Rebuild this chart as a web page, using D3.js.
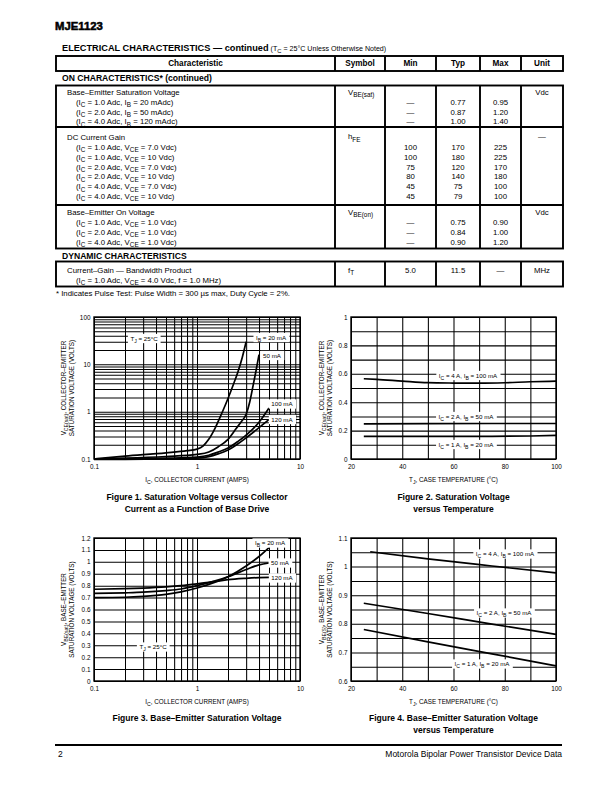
<!DOCTYPE html>
<html><head><meta charset="utf-8">
<script src="https://cdn.jsdelivr.net/npm/d3@7"></script>
<style>
html,body{margin:0;padding:0;background:#fff;}
svg{display:block;}
text{fill:#000;}
</style></head><body>
<svg id="page" width="612" height="792"></svg>
<script>
// ---------------- DATA ----------------
const tableColumns = ["Characteristic", "Symbol", "Min", "Typ", "Max", "Unit"];

const satTitle = "Base–Emitter Saturation Voltage";
const satSymbol = "V_{BE(sat)}";
const satUnit = "Vdc";
const satConds = ["(I_{C} = 1.0 Adc, I_{B} = 20 mAdc)", "(I_{C} = 2.0 Adc, I_{B} = 50 mAdc)", "(I_{C} = 4.0 Adc, I_{B} = 120 mAdc)"];
const satMin = ["—", "—", "—"];
const satTyp = ["0.77", "0.87", "1.00"];
const satMax = ["0.95", "1.20", "1.40"];

const hfeTitle = "DC Current Gain";
const hfeSymbol = "h_{FE}";
const hfeUnit = "—";
const hfeConds = ["(I_{C} = 1.0 Adc, V_{CE} = 7.0 Vdc)", "(I_{C} = 1.0 Adc, V_{CE} = 10 Vdc)", "(I_{C} = 2.0 Adc, V_{CE} = 7.0 Vdc)", "(I_{C} = 2.0 Adc, V_{CE} = 10 Vdc)", "(I_{C} = 4.0 Adc, V_{CE} = 7.0 Vdc)", "(I_{C} = 4.0 Adc, V_{CE} = 10 Vdc)"];
const hfeMin = ["100", "100", "75", "80", "45", "45"];
const hfeTyp = ["170", "180", "120", "140", "75", "79"];
const hfeMax = ["225", "225", "170", "180", "100", "100"];

const onTitle = "Base–Emitter On Voltage";
const onSymbol = "V_{BE(on)}";
const onUnit = "Vdc";
const onConds = ["(I_{C} = 1.0 Adc, V_{CE} = 1.0 Vdc)", "(I_{C} = 2.0 Adc, V_{CE} = 1.0 Vdc)", "(I_{C} = 4.0 Adc, V_{CE} = 1.0 Vdc)"];
const onMin = ["—", "—", "—"];
const onTyp = ["0.75", "0.84", "0.90"];
const onMax = ["0.90", "1.00", "1.20"];

const ftTitle = "Current–Gain — Bandwidth Product";
const ftSymbol = "f_{T}";
const ftUnit = "MHz";
const ftConds = ["(I_{C} = 1.0 Adc, V_{CE} = 4.0 Vdc, f = 1.0 MHz)"];
const ftMin = ["5.0"];
const ftTyp = ["11.5"];
const ftMax = ["—"];

// Figure 1: VCE(sat) vs IC (log-log)
const fig1Series = ["I_{B} = 20 mA", "50 mA", "100 mA", "120 mA"];
const fig1Ib20X = [0.1, 0.2, 0.5, 0.8, 1.0, 1.15, 1.3, 1.5, 1.75, 2.0, 2.25, 2.5, 2.75, 3.0];
const fig1Ib20Y = [0.1, 0.115, 0.135, 0.15, 0.162, 0.19, 0.26, 0.45, 0.95, 1.9, 3.7, 7.0, 14, 30];
const fig1Ib50X = [0.1, 0.2, 0.5, 1.0, 1.3, 1.6, 2.0, 2.4, 2.7, 3.0, 3.25, 3.5, 3.75, 4.0];
const fig1Ib50Y = [0.1, 0.104, 0.113, 0.125, 0.14, 0.18, 0.26, 0.44, 0.62, 0.88, 1.6, 3.5, 7.5, 16];
const fig1Ib100X = [0.1, 0.2, 0.5, 1.0, 1.3, 1.6, 2.0, 2.5, 3.0, 4.0, 5.0];
const fig1Ib100Y = [0.1, 0.1, 0.104, 0.11, 0.12, 0.14, 0.17, 0.235, 0.32, 0.6, 1.2];
const fig1Ib120X = [0.1, 0.2, 0.5, 1.0, 1.3, 1.6, 2.0, 2.5, 3.0, 4.0, 5.0];
const fig1Ib120Y = [0.098, 0.098, 0.1, 0.104, 0.112, 0.128, 0.155, 0.21, 0.28, 0.46, 0.68];
const fig1XTicks = [0.1, 1, 10];
const fig1XLabels = ["0.1", "1", "10"];
const fig1YTicks = [0.1, 1, 10, 100];
const fig1YLabels = ["0.1", "1", "10", "100"];

// Figure 2: VCE(sat) vs temperature
const fig2Series = ["I_{C} = 4 A, I_{B} = 100 mA", "I_{C} = 2 A, I_{B} = 50 mA", "I_{C} = 1 A, I_{B} = 20 mA"];
const fig2Ic4X = [25, 30, 40, 50, 60, 70, 80, 90, 100];
const fig2Ic4Y = [0.565, 0.561, 0.549, 0.538, 0.535, 0.534, 0.537, 0.544, 0.548];
const fig2Ic2X = [25, 50, 75, 100];
const fig2Ic2Y = [0.247, 0.249, 0.25, 0.25];
const fig2Ic1X = [25, 50, 75, 90, 100];
const fig2Ic1Y = [0.16, 0.16, 0.16, 0.162, 0.166];
const fig2XTicks = [20, 40, 60, 80, 100];
const fig2XLabels = ["20", "40", "60", "80", "100"];
const fig2YTicks = [0, 0.2, 0.4, 0.6, 0.8, 1];
const fig2YLabels = ["0", "0.2", "0.4", "0.6", "0.8", "1"];

// Figure 3: VBE(sat) vs IC
const fig3Series = ["I_{B} = 20 mA", "50 mA", "120 mA"];
const fig3Ib20X = [0.1, 0.2, 0.3, 0.5, 0.7, 1.0, 1.5, 2.0, 3.0, 4.0, 5.0];
const fig3Ib20Y = [0.70, 0.703, 0.71, 0.727, 0.748, 0.78, 0.83, 0.875, 0.965, 1.045, 1.12];
const fig3Ib50X = [0.1, 0.2, 0.3, 0.5, 0.7, 1.0, 1.5, 2.0, 3.0, 4.0, 5.0];
const fig3Ib50Y = [0.735, 0.74, 0.745, 0.758, 0.772, 0.80, 0.84, 0.875, 0.935, 0.975, 0.99];
const fig3Ib120X = [0.1, 0.2, 0.3, 0.5, 0.7, 1.0, 1.5, 2.0, 3.0, 4.0, 5.0];
const fig3Ib120Y = [0.77, 0.775, 0.78, 0.79, 0.80, 0.815, 0.835, 0.85, 0.862, 0.868, 0.87];
const fig3XTicks = [0.1, 1, 10];
const fig3XLabels = ["0.1", "1", "10"];
const fig3YTicks = [0, 0.1, 0.2, 0.3, 0.4, 0.5, 0.6, 0.7, 0.8, 0.9, 1, 1.1, 1.2];
const fig3YLabels = ["0", "0.1", "0.2", "0.3", "0.4", "0.5", "0.6", "0.7", "0.8", "0.9", "1", "1.1", "1.2"];

// Figure 4: VBE(sat) vs temperature
const fig4Series = ["I_{C} = 4 A, I_{B} = 100 mA", "I_{C} = 2 A, I_{B} = 50 mA", "I_{C} = 1 A, I_{B} = 20 mA"];
const fig4Ic4X = [27.5, 50, 75, 100];
const fig4Ic4Y = [1.052, 1.027, 1.002, 0.978];
const fig4Ic2X = [25, 50, 75, 100];
const fig4Ic2Y = [0.872, 0.836, 0.799, 0.763];
const fig4Ic1X = [25, 50, 75, 100];
const fig4Ic1Y = [0.78, 0.737, 0.695, 0.653];
const fig4XTicks = [20, 40, 60, 80, 100];
const fig4XLabels = ["20", "40", "60", "80", "100"];
const fig4YTicks = [0.6, 0.7, 0.8, 0.9, 1, 1.1];
const fig4YLabels = ["0.6", "0.7", "0.8", "0.9", "1", "1.1"];

// ---------------- HELPERS ----------------
const SANS = '"Liberation Sans", Arial, Helvetica, sans-serif';
const NARROW = '"Liberation Sans Narrow", "Arial Narrow", "Liberation Sans", sans-serif';
const svg = d3.select('#page');

function rich(t, str, size) {
  const parts = str.split(/(_\{[^}]*\})/);
  let down = false;
  const sh = size * 0.3;
  parts.forEach(p => {
    if (!p) return;
    if (p.startsWith('_{')) {
      t.append('tspan').attr('dy', down ? 0 : sh).attr('font-size', size * 0.82).text(p.slice(2, -1));
      down = true;
    } else {
      const ts = t.append('tspan').text(p);
      if (down) { ts.attr('dy', -sh); down = false; }
    }
  });
  return t;
}
function txt(parent, x, cy, str, o) {
  o = o || {};
  const size = o.size || 7;
  const t = parent.append('text')
    .attr('x', x).attr('y', cy + size * 0.36)
    .attr('font-size', size)
    .attr('font-family', o.family || SANS)
    .attr('font-weight', o.weight || 'normal')
    .attr('text-anchor', o.anchor || 'start');
  if (o.rotate) t.attr('transform', `rotate(${o.rotate},${x},${cy})`);
  rich(t, str, size);
  return t;
}
function boxedLabel(parent, cx, cy, str, size) {
  const g = parent.append('g');
  const r = g.append('rect').attr('fill', '#fff');
  const t = txt(g, cx, cy, str, {size: size, anchor: 'middle'});
  const b = t.node().getBBox();
  r.attr('x', b.x - 2.5).attr('y', cy - size * 0.75).attr('width', b.width + 5).attr('height', size * 1.5);
}

// ---------------- HEADER ----------------
txt(svg, 55, 26, "MJE1123", {size: 11.3, weight: 'bold'}).attr('stroke', '#000').attr('stroke-width', 0.55);
const ttl = txt(svg, 62, 48, "ELECTRICAL CHARACTERISTICS — continued", {size: 9.2, weight: 'bold', family: NARROW});
{
  ttl.append('tspan').attr('font-family', SANS).attr('font-weight', 'normal').attr('font-size', 7.1).text(" (T");
  ttl.append('tspan').attr('font-family', SANS).attr('font-weight', 'normal').attr('font-size', 5.8).attr('dy', 1.9).text("C");
  ttl.append('tspan').attr('font-family', SANS).attr('font-weight', 'normal').attr('font-size', 7.1).attr('dy', -1.9).text(" = 25°C Unless Otherwise Noted)");
}

// ---------------- TABLE ----------------
const colX = [56, 335, 385, 436, 480, 521, 563];
const LW = 1.9;
const tg = svg.append('g');
function vline(x, y1, y2) { tg.append('line').attr('x1', x).attr('x2', x).attr('y1', y1).attr('y2', y2).attr('stroke', '#000').attr('stroke-width', LW); }
function box(y1, y2) {
  tg.append('rect').attr('x', colX[0]).attr('y', y1).attr('width', colX[6] - colX[0]).attr('height', y2 - y1)
    .attr('fill', 'none').attr('stroke', '#000').attr('stroke-width', LW);
  for (let i = 1; i < 6; i++) vline(colX[i], y1, y2);
}
const mid = i => (colX[i] + colX[i + 1]) / 2;
box(56, 71);
tableColumns.forEach((c, i) => txt(tg, mid(i), 63.5, c, {size: 8.2, weight: 'bold', family: NARROW, anchor: 'middle'}));
txt(tg, 62, 78, "ON CHARACTERISTICS* (continued)", {size: 8.6, weight: 'bold', family: NARROW});

const FS = 7.8;
function group(top, bottom, titleY, rowYs, title, symbol, unit, conds, mins, typs, maxs, valuesOnTitle) {
  box(top, bottom);
  txt(tg, 67, titleY, title, {size: FS});
  txt(tg, mid(1) - 12, titleY - 0.5, symbol, {size: FS});
  txt(tg, mid(5), titleY - 0.5, unit, {size: FS, anchor: 'middle'});
  conds.forEach((c, i) => {
    txt(tg, 76, rowYs[i], c, {size: FS});
    const vy = valuesOnTitle ? titleY : rowYs[i];
    txt(tg, mid(2), vy, mins[i], {size: FS, anchor: 'middle'});
    txt(tg, mid(3), vy, typs[i], {size: FS, anchor: 'middle'});
    txt(tg, mid(4), vy, maxs[i], {size: FS, anchor: 'middle'});
  });
}
group(85.5, 127, 92.5, [102.2, 111.9, 121.6], satTitle, satSymbol, satUnit, satConds, satMin, satTyp, satMax, false);
group(127, 205, 137, [147.3, 157, 166.8, 176.6, 186.4, 196.2], hfeTitle, hfeSymbol, hfeUnit, hfeConds, hfeMin, hfeTyp, hfeMax, false);
group(205, 248.5, 212.3, [222.2, 232, 241.7], onTitle, onSymbol, onUnit, onConds, onMin, onTyp, onMax, false);
txt(tg, 62, 255.5, "DYNAMIC CHARACTERISTICS", {size: 8.6, weight: 'bold', family: NARROW});
group(261.5, 286.5, 270.3, [280], ftTitle, ftSymbol, ftUnit, ftConds, ftMin, ftTyp, ftMax, true);
txt(tg, 56, 293.5, "* Indicates Pulse Test: Pulse Width = 300 µs max, Duty Cycle = 2%.", {size: 7.8});

// ---------------- CHARTS ----------------
function chart(o) {
  const g = svg.append('g');
  const x = o.x, y = o.y;
  const [x0, x1] = x.range(), [y0, y1] = y.range();
  const w = x1 - x0, h = y0 - y1;
  g.append('g').attr('transform', `translate(0,${y0})`)
    .call(d3.axisBottom(x).tickValues(o.xGrid).tickSize(-h).tickFormat(''))
    .call(s => s.select('.domain').remove())
    .call(s => s.selectAll('line').attr('stroke', '#000').attr('stroke-width', 1.05));
  g.append('g').attr('transform', `translate(${x0},0)`)
    .call(d3.axisLeft(y).tickValues(o.yGrid).tickSize(-w).tickFormat(''))
    .call(s => s.select('.domain').remove())
    .call(s => s.selectAll('line').attr('stroke', '#000').attr('stroke-width', 1.05));
  g.append('rect').attr('x', x0).attr('y', y1).attr('width', w).attr('height', h)
    .attr('fill', 'none').attr('stroke', '#000').attr('stroke-width', 1.4);
  const ax = g.append('g').attr('transform', `translate(0,${y0})`)
    .call(d3.axisBottom(x).tickValues(o.xTicks).tickSize(0).tickPadding(5).tickFormat((d, i) => o.xLabels[i]));
  ax.select('.domain').remove();
  ax.selectAll('text').attr('font-family', SANS).attr('font-size', 6.4).attr('fill', '#000');
  const ay = g.append('g').attr('transform', `translate(${x0},0)`)
    .call(d3.axisLeft(y).tickValues(o.yTicks).tickSize(0).tickPadding(3.5).tickFormat((d, i) => o.yLabels[i]));
  ay.select('.domain').remove();
  ay.selectAll('text').attr('font-family', SANS).attr('font-size', 6.4).attr('fill', '#000');
  const line = d3.line().x(d => x(d[0])).y(d => y(d[1])).curve(d3.curveMonotoneX);
  o.series.forEach(s => {
    g.append('path').attr('d', line(s[0].map((v, i) => [v, s[1][i]])))
      .attr('fill', 'none').attr('stroke', '#000').attr('stroke-width', 1.7).attr('stroke-linejoin', 'round');
  });
  o.labels.forEach(l => boxedLabel(g, l[0], l[1], l[2], 6.2));
  txt(g, (x0 + x1) / 2, o.xTitleY, o.xTitle, {size: 6.3, anchor: 'middle'});
  txt(g, o.yTitleX[0], (y0 + y1) / 2, o.yTitle[0], {size: 6.3, anchor: 'middle', rotate: -90});
  txt(g, o.yTitleX[1], (y0 + y1) / 2, o.yTitle[1], {size: 6.3, anchor: 'middle', rotate: -90});
  o.caption.forEach((c, i) => txt(g, (x0 + x1) / 2, o.capY + i * 12, c, {size: 8.5, weight: 'bold', anchor: 'middle'}));
  return g;
}

// Figure 1
{
  const x = d3.scaleLog().domain([0.1, 10]).range([94, 300]);
  const y = d3.scaleLog().domain([0.1, 100]).range([459, 317]);
  chart({x, y, xGrid: x.ticks(), yGrid: y.ticks(), xTicks: fig1XTicks, xLabels: fig1XLabels, yTicks: fig1YTicks, yLabels: fig1YLabels,
    series: [[fig1Ib20X, fig1Ib20Y], [fig1Ib50X, fig1Ib50Y], [fig1Ib100X, fig1Ib100Y], [fig1Ib120X, fig1Ib120Y]],
    labels: [[144, 338.5, "T_{J} = 25°C"], [271, 337.5, fig1Series[0]], [272, 355.5, fig1Series[1]], [282, 404, fig1Series[2]], [282, 419.5, fig1Series[3]]],
    xTitle: "I_{C}, COLLECTOR CURRENT (AMPS)", xTitleY: 480,
    yTitle: ["V_{CE(sat)}, COLLECTOR–EMITTER", "SATURATION VOLTAGE (VOLTS)"], yTitleX: [64, 71.5],
    caption: ["Figure 1. Saturation Voltage versus Collector", "Current as a Function of Base Drive"], capY: 497});
}
// Figure 2
{
  const x = d3.scaleLinear().domain([20, 100]).range([351, 556]);
  const y = d3.scaleLinear().domain([0, 1]).range([459, 317]);
  chart({x, y, xGrid: x.ticks(8), yGrid: y.ticks(10), xTicks: fig2XTicks, xLabels: fig2XLabels, yTicks: fig2YTicks, yLabels: fig2YLabels,
    series: [[fig2Ic4X, fig2Ic4Y], [fig2Ic2X, fig2Ic2Y], [fig2Ic1X, fig2Ic1Y]],
    labels: [[468, 375.5, fig2Series[0]], [466, 416.5, fig2Series[1]], [466, 444.5, fig2Series[2]]],
    xTitle: "T_{J}, CASE TEMPERATURE (°C)", xTitleY: 480,
    yTitle: ["V_{CE(sat)}, COLLECTOR–EMITTER", "SATURATION VOLTAGE (VOLTS)"], yTitleX: [322, 329.5],
    caption: ["Figure 2. Saturation Voltage", "versus Temperature"], capY: 497});
}
// Figure 3
{
  const x = d3.scaleLog().domain([0.1, 10]).range([94, 300]);
  const y = d3.scaleLinear().domain([0, 1.2]).range([681, 538]);
  chart({x, y, xGrid: x.ticks(), yGrid: y.ticks(12), xTicks: fig3XTicks, xLabels: fig3XLabels, yTicks: fig3YTicks, yLabels: fig3YLabels,
    series: [[fig3Ib20X, fig3Ib20Y], [fig3Ib50X, fig3Ib50Y], [fig3Ib120X, fig3Ib120Y]],
    labels: [[270, 543, fig3Series[0]], [280, 563, fig3Series[1]], [282, 578, fig3Series[2]], [153, 647, "T_{J} = 25°C"]],
    xTitle: "I_{C}, COLLECTOR CURRENT (AMPS)", xTitleY: 702,
    yTitle: ["V_{BE(sat)}, BASE–EMITTER", "SATURATION VOLTAGE (VOLTS)"], yTitleX: [64, 71.5],
    caption: ["Figure 3. Base–Emitter Saturation Voltage"], capY: 718});
}
// Figure 4
{
  const x = d3.scaleLinear().domain([20, 100]).range([351, 556]);
  const y = d3.scaleLinear().domain([0.6, 1.1]).range([681, 538]);
  chart({x, y, xGrid: x.ticks(8), yGrid: y.ticks(10), xTicks: fig4XTicks, xLabels: fig4XLabels, yTicks: fig4YTicks, yLabels: fig4YLabels,
    series: [[fig4Ic4X, fig4Ic4Y], [fig4Ic2X, fig4Ic2Y], [fig4Ic1X, fig4Ic1Y]],
    labels: [[505, 554, fig4Series[0]], [504, 613, fig4Series[1]], [482, 664, fig4Series[2]]],
    xTitle: "T_{J}, CASE TEMPERATURE (°C)", xTitleY: 702,
    yTitle: ["V_{BE(S)}, BASE–EMITTER", "SATURATION VOLTAGE (VOLTS)"], yTitleX: [322, 329.5],
    caption: ["Figure 4. Base–Emitter Saturation Voltage", "versus Temperature"], capY: 718});
}

// ---------------- FOOTER ----------------
svg.append('line').attr('x1', 55).attr('x2', 562).attr('y1', 745).attr('y2', 745).attr('stroke', '#000').attr('stroke-width', 2);
txt(svg, 58, 754, "2", {size: 8.5});
txt(svg, 562, 754, "Motorola Bipolar Power Transistor Device Data", {size: 8.5, anchor: 'end'});
</script></body></html>
